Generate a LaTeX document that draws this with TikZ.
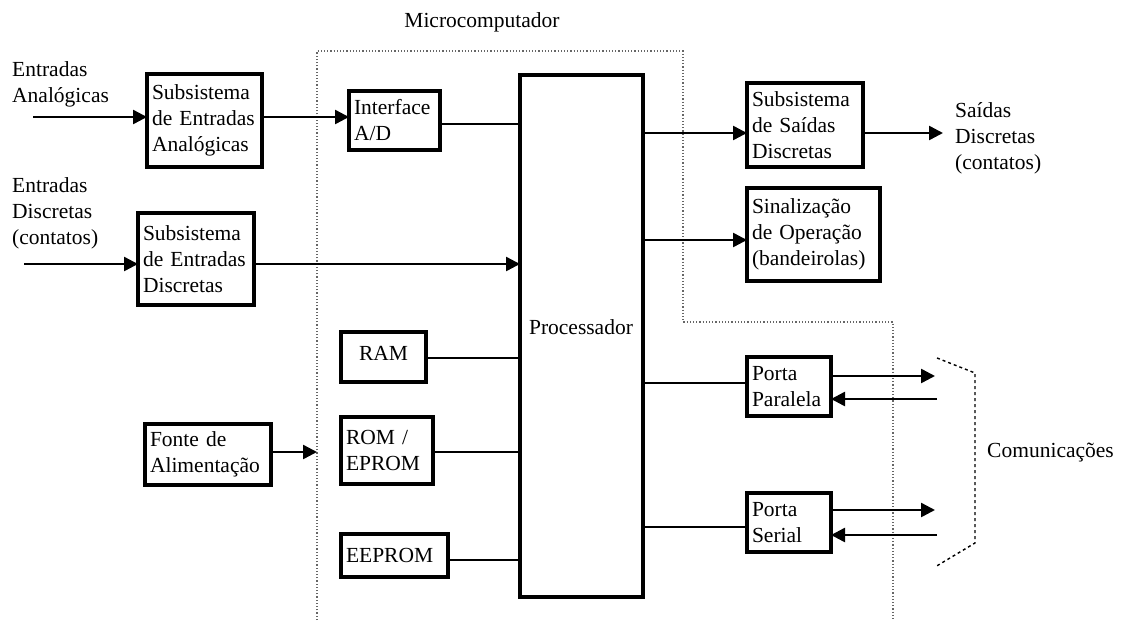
\documentclass[tikz,border=0pt]{standalone}
\usepackage{fontspec}
\setmainfont{Liberation Serif}
\usetikzlibrary{arrows.meta}
\begin{document}
\begin{tikzpicture}[x=1pt,y=-1pt,
  every node/.style={font=\fontsize{21.5}{26}\selectfont},
  box/.style={draw, line width=4pt, inner xsep=5pt, inner ysep=0pt, outer sep=0pt, align=left, anchor=north west},
  lbl/.style={inner sep=0pt, align=left, anchor=north west},
  conn/.style={line width=2.5pt},
  arr/.style={line width=2.5pt, -{Triangle[length=14pt,width=14pt]}},
  bound/.style={line width=1.2pt, dotted, gray!80!black},
  brack/.style={line width=1.4pt, dashed}]
\useasboundingbox (0,0) rectangle (1127,635);
% boundary
\draw[bound] (317,620) -- (317,51) -- (683,51) -- (683,322) -- (893,322) -- (893,620);
\node[inner sep=0pt, anchor=base] (mc) at (482,27) {Microcomputador};
% left labels
\node[lbl] (ea) at (12,61) {Entradas\\Analógicas};
\node[lbl] (ed) at (12,177) {Entradas\\Discretas\\(contatos)};
\coordinate (eain) at (33,117);
\coordinate (edin) at (24,264);
% boxes
\node[box, text width=105pt, minimum height=93pt] (sa) at (147,74) {Subsistema\\de Entradas\\Analógicas};
\node[box, text width=106pt, minimum height=92pt] (sdi) at (138,213) {Subsistema\\de Entradas\\Discretas};
\node[box, text width=116pt, minimum height=61pt] (fa) at (145,424) {Fonte de\\Alimentação};
\node[box, text width=81pt, minimum height=59pt] (ad) at (349,91) {\raisebox{-4pt}{Interface}\\\raisebox{-4pt}{A/D}};
\node[box, align=center, text width=75pt, minimum height=50pt] (ram) at (341,332) {\raisebox{7pt}{RAM}};
\node[box, text width=82pt, minimum height=67pt] (rom) at (341,417) {ROM /\\EPROM};
\node[box, text width=97pt, minimum height=43pt] (eep) at (341,534) {EEPROM};
\node[draw, line width=4pt, outer sep=0pt, anchor=north west, minimum width=123pt, minimum height=522pt] (proc) at (520,75) {};
\node[inner sep=0pt, anchor=base] (proclbl) at (581,334) {Processador};
\node[box, text width=106pt, minimum height=84pt] (so) at (747,83) {Subsistema\\de Saídas\\Discretas};
\node[box, text width=123pt, minimum height=93pt] (sin) at (747,188) {Sinalização\\de Operação\\(bandeirolas)};
\node[box, text width=74pt, minimum height=59pt] (pp) at (747,357) {\raisebox{-3pt}{Porta}\\\raisebox{-3pt}{Paralela}};
\node[box, text width=74pt, minimum height=59pt] (ps) at (747,493) {\raisebox{-3pt}{Porta}\\\raisebox{-3pt}{Serial}};
% right labels
\node[lbl] (sdl) at (955,102) {Saídas\\Discretas\\(contatos)};
\node[inner sep=0pt, anchor=base west] (com) at (987,457) {Comunicações};
\coordinate (sdout) at (943,133);
% connectors
\draw[arr] (eain) -- (sa.west |- eain);
\draw[arr] (edin) -- (sdi.west |- edin);
\draw[arr] (sa.east |- 0,117) -- (ad.west |- 0,117);
\draw[conn] (ad.east |- 0,124) -- (proc.west |- 0,124);
\draw[arr] (sdi.east |- edin) -- (proc.west |- edin);
\draw[conn] (ram.east |- 0,358) -- (proc.west |- 0,358);
\draw[conn] (rom.east |- 0,452) -- (proc.west |- 0,452);
\draw[conn] (eep.east |- 0,560) -- (proc.west |- 0,560);
\draw[arr] (fa.east |- 0,452) -- (317,452);
\draw[arr] (proc.east |- sdout) -- (so.west |- sdout);
\draw[arr] (so.east |- sdout) -- (sdout);
\draw[arr] (proc.east |- 0,240) -- (sin.west |- 0,240);
\draw[conn] (proc.east |- 0,383) -- (pp.west |- 0,383);
\draw[conn] (proc.east |- 0,527) -- (ps.west |- 0,527);
\coordinate (ppo) at (935,376);
\coordinate (ppi) at (937,399);
\coordinate (pso) at (935,510);
\coordinate (psi) at (937,535);
\draw[arr] (pp.east |- ppo) -- (ppo);
\draw[arr] (ppi) -- (pp.east |- ppi);
\draw[arr] (ps.east |- pso) -- (pso);
\draw[arr] (psi) -- (ps.east |- psi);
% bracket
\draw[brack] (937,358) -- (975,373) -- (975,543) -- (935,567);
\end{tikzpicture}
\end{document}
